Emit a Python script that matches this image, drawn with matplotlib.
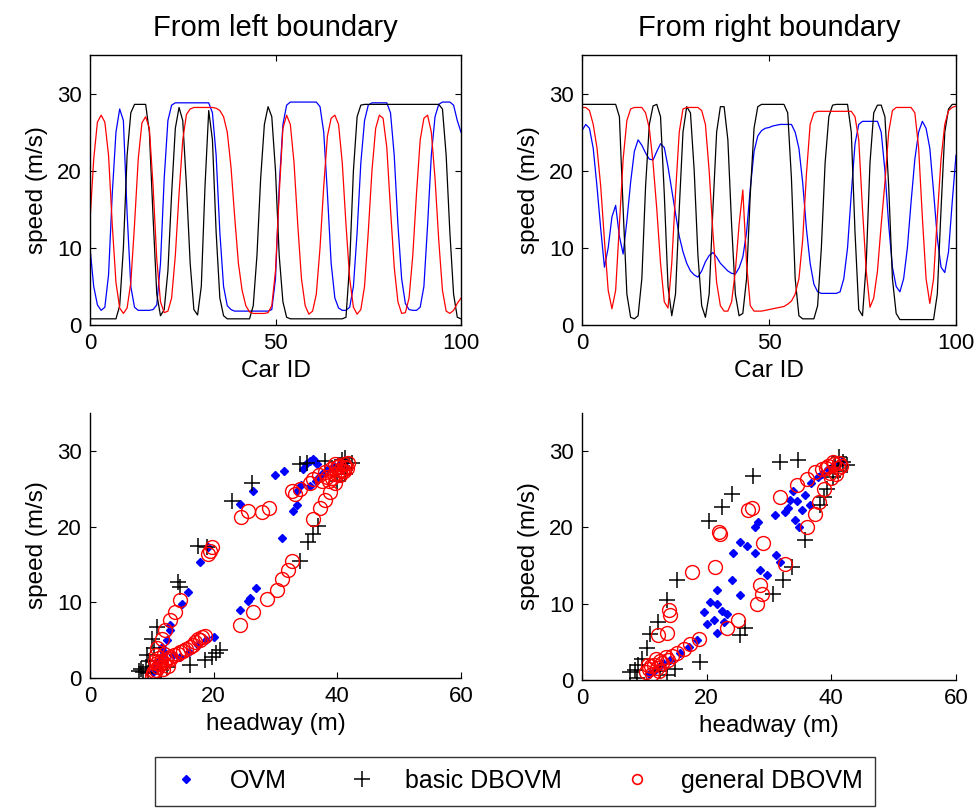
import matplotlib
matplotlib.use("Agg")
import matplotlib.pyplot as plt
from matplotlib.lines import Line2D

plt.rcParams['font.family'] = ['Liberation Sans', 'DejaVu Sans']

car_id = list(range(101))

# ---- Top-left: From left boundary (speed per car) ----
left_ovm = [10, 5, 2.6, 1.9, 2.3, 6.5, 17, 25, 28, 26.5, 14.5, 5, 2.3, 1.9, 1.9, 1.9, 1.9, 2, 2.6, 8,
            19, 26.5, 28.5, 28.8, 28.8, 28.8, 28.8, 28.8, 28.8, 28.8, 28.8, 28.8, 28.8, 27.5, 22, 12, 5, 2.5, 2, 1.8,
            1.8, 1.8, 1.8, 1.8, 1.8, 1.8, 1.8, 1.8, 1.8, 2, 6, 18, 26, 28.5, 28.9, 28.9, 28.9, 28.9, 28.9, 28.9,
            28.9, 28.9, 28.3, 25, 17, 8, 3.5, 2.2, 1.9, 1.9, 2.3, 5, 12, 21, 26.5, 28.5, 28.8, 28.8, 28.8, 28.8,
            28.8, 27.5, 22, 13, 6, 2.8, 2, 1.9, 1.9, 2.3, 5, 13, 22, 27, 28.6, 28.9, 28.9, 28.9, 28.5, 26.5, 25]
left_basic = [0.8, 0.8, 0.8, 0.8, 0.8, 0.8, 0.8, 0.8, 2.5, 10, 22, 27.5, 28.6, 28.6, 28.6, 28.6, 25, 14, 4, 1.2,
              2, 7, 17, 25.5, 28.2, 26.5, 18, 8, 2, 1.3, 5, 18, 27.8, 24, 12, 3.5, 1.2, 0.8, 0.8, 0.8,
              0.8, 0.8, 0.8, 0.8, 2.5, 9, 19, 26, 28.3, 27, 20, 9, 3, 1, 0.8, 0.8, 0.8, 0.8, 0.8, 0.8,
              0.8, 0.8, 0.8, 0.8, 0.8, 0.8, 0.8, 0.8, 0.8, 1, 8, 20, 27, 28.5, 28.6, 28.6, 28.6, 28.6, 28.6, 28.6,
              28.6, 28.6, 28.6, 28.6, 28.6, 28.6, 28.6, 28.6, 28.6, 28.6, 28.6, 28.6, 28.6, 28.6, 28.6, 28, 22, 12, 4, 1, 0.8]
left_general = [13.5, 21.5, 26.3, 27.2, 26.3, 22, 13, 5.5, 2.2, 1.5, 2.2, 5.5, 13, 21.5, 26.2, 27, 25.5, 18, 8.5, 3,
                1.6, 1.8, 3.5, 9, 17, 24, 27.3, 28, 28.2, 28.2, 28.2, 28.2, 28.2, 28.2, 28.1, 27.8, 27, 25, 20.5, 14,
                8, 4.5, 2.5, 1.7, 1.5, 1.5, 1.5, 1.5, 1.6, 2.5, 7, 17, 25.5, 27.2, 26, 21, 13, 6, 2.5, 1.4,
                1.8, 4, 10, 18, 24.5, 26.8, 27.2, 26, 21, 13, 6, 2.3, 1.4, 2, 5, 12, 20, 25.5, 27.2, 26.8,
                23, 15, 7.5, 3, 1.5, 1.6, 3.5, 9, 17, 24, 26.8, 27.2, 25, 19, 11, 4.5, 1.8, 1.5, 1.9, 2.8, 3.5]

# ---- Top-right: From right boundary ----
right_ovm = [25.2, 26, 25.5, 22.9, 18, 12.5, 7.5, 10, 14, 15.5, 11.5, 9.2, 13.5, 18.5, 22.5, 24, 23.3, 22.3, 21.5, 21.4,
             22.5, 23.5, 23, 20.5, 17.5, 14.5, 11.5, 9.5, 8, 7, 6.5, 6.2, 7, 8.2, 9, 9.4, 8.8, 8, 7.5, 7,
             6.7, 6.6, 7.4, 8.8, 12, 17.7, 22.5, 24.5, 25.2, 25.5, 25.6, 25.8, 25.9, 26, 26, 26, 26, 25, 22.9, 18.5,
             12.5, 8, 5.3, 4.3, 4.1, 4.1, 4.1, 4.1, 4.1, 4.3, 6, 10, 17, 23.5, 26, 26.4, 26.4, 26.4, 26.4, 26.4,
             25, 20, 13, 7.5, 5, 4.3, 6, 10, 16, 21.5, 25, 26.4, 25.5, 22.9, 17.3, 11.3, 7.5, 6.8, 9.5, 16, 22]
right_basic = [28.6, 28.6, 28.6, 28.6, 28.6, 28.6, 28.6, 28.6, 28.6, 28.6, 27, 15, 4, 1, 0.8, 1.2, 6, 18, 26, 28.4,
               28.6, 27, 17, 5, 1.2, 4, 15, 25, 28.3, 27.5, 20, 9, 2.5, 1, 4, 15, 25, 28.3, 28.3, 24,
               13, 4, 1.2, 1.5, 6, 17, 25.5, 28.3, 28.6, 28.6, 28.6, 28.6, 28.6, 28.6, 28.6, 27.5, 19, 6, 1.2, 0.8,
               0.8, 0.8, 0.8, 2.5, 10, 21, 27, 28.5, 28.6, 28.6, 28.6, 28.6, 25, 12, 2, 1.2, 8, 21, 27.5, 28.5,
               28.5, 27, 18, 6, 1.5, 0.7, 0.7, 0.7, 0.7, 0.7, 0.7, 0.7, 0.7, 0.7, 0.7, 4, 15, 25, 28, 28.6, 28.6]
right_general = [28.2, 28.2, 27.8, 26, 23, 18, 11, 4.5, 2.1, 4.5, 13, 21.5, 26.5, 28, 28.2, 28.2, 28.2, 27.5, 25.5, 21,
                 15, 8, 3, 2.2, 8, 17, 25, 28, 28.2, 28.2, 28.2, 28.2, 27.8, 26, 20, 12, 5.5, 2.5, 1.8, 1.8,
                 3, 7, 13, 17.5, 8, 2.5, 1.8, 1.8, 1.8, 1.9, 2, 2.1, 2.2, 2.3, 2.4, 2.7, 3.1, 4, 6, 11,
                 19.5, 26, 27.5, 27.7, 27.7, 27.7, 27.7, 27.7, 27.7, 27.7, 27.7, 27.7, 27.7, 27, 24, 15, 7, 2.3, 3.5, 7,
                 13, 18.5, 25, 27.8, 28.2, 28.2, 28.2, 28.2, 28.2, 27.5, 23, 14, 6, 2.8, 6, 14, 21.5, 26, 27.8, 28.2, 28.4]

# ---- Bottom-left: speed vs headway (left boundary) ----
bl_ovm_h = [10.2, 10.5, 10.8, 11.0, 11.3, 10.4, 10.9, 11.6, 12.0, 11.6, 12.9, 12.4, 13.4, 14.6, 16.0, 17.5, 18.8, 20.0,
            13.0, 14.8, 15.9, 17.8, 19.1, 24.3, 25.6, 25.9, 26.8, 31.1, 32.9, 33.5, 24.3, 26.4, 29.9, 31.3, 33.4, 34.2,
            35.0, 35.6, 36.0, 36.4, 36.7, 34.5, 37.5, 38.5, 39.5, 40.5, 41.2, 36.5, 35.5, 37.0]
bl_ovm_v = [0.8, 1.2, 1.6, 2.0, 2.4, 1.0, 1.4, 2.9, 3.4, 4.1, 6.3, 5.0, 3.0, 2.8, 3.5, 4.3, 5.0, 5.4,
            7.0, 9.8, 11.3, 15.3, 17.3, 9.0, 10.2, 10.6, 11.9, 18.5, 22.1, 22.8, 23.0, 24.7, 26.8, 27.4, 24.7, 25.5,
            28.2, 28.6, 28.9, 28.7, 28.3, 27.6, 27.0, 27.6, 28.0, 28.3, 28.5, 26.0, 25.4, 26.5]
bl_basic_h = [8.0, 8.3, 8.6, 9.0, 9.2, 9.6, 10.0, 10.8, 10.3, 9.4, 14.3, 14.6, 17.5, 18.9, 22.9, 26.2, 34.0, 35.1,
              38.0, 41.2, 42.3, 41.5, 40.8, 40.7, 16.2, 18.6, 19.7, 21.0, 20.3, 34.0, 35.3, 36.1, 36.9, 41.2, 40.0, 11.5, 12.5]
bl_basic_v = [0.9, 1.2, 0.8, 1.5, 3.0, 2.2, 5.2, 6.75, 4.0, 0.6, 12.7, 12.0, 17.5, 17.3, 23.4, 25.8, 28.2, 28.4,
              28.6, 29.0, 28.4, 27.8, 28.0, 28.8, 1.7, 2.4, 2.8, 3.7, 3.3, 15.5, 17.9, 19.0, 20.1, 26.9, 26.0, 1.0, 1.5]
bl_general_h = [24.3, 26.4, 28.6, 30.2, 31.0, 32.1, 32.6, 36.1, 37.2, 38.0, 38.8, 39.6, 40.4, 41.3,
                32.6, 33.2, 34.0, 35.6, 36.1, 37.0, 38.0, 39.0, 40.0, 41.0, 41.8, 40.5, 39.5,
                38.6, 39.2, 39.9, 40.7, 41.5, 37.6, 38.3, 40.2, 41.1, 39.6,
                24.5, 25.6, 27.8, 28.9, 19.1, 19.7, 19.4,
                14.6, 13.8, 13.0, 11.6, 10.8, 12.2,
                12.0, 13.0, 14.6, 15.5, 16.2, 17.0, 17.5, 18.1, 18.6, 13.6, 14.2, 15.0, 16.7, 17.8,
                10.2, 10.6, 11.0, 11.4, 10.5, 11.2, 10.0, 11.8, 10.4, 10.9, 11.5, 12.3, 12.6, 10.7, 11.9, 12.9]
bl_general_v = [7.0, 8.7, 10.5, 11.6, 13.1, 14.2, 15.5, 21.0, 22.5, 23.5, 24.6, 25.7, 26.8, 27.9,
                24.7, 24.3, 25.0, 25.8, 26.3, 26.8, 27.2, 27.6, 27.9, 28.2, 28.4, 27.5, 27.0,
                26.0, 26.4, 26.9, 27.3, 27.7, 26.0, 26.6, 28.0, 27.4, 28.3,
                21.2, 22.1, 21.9, 22.5, 16.4, 17.3, 16.8,
                10.3, 8.7, 7.6, 5.2, 3.9, 6.3,
                2.0, 2.5, 3.5, 3.8, 4.1, 4.7, 5.2, 5.4, 5.6, 3.0, 3.2, 3.6, 4.4, 5.0,
                0.6, 1.0, 1.4, 1.8, 2.2, 2.6, 0.3, 1.2, 0.9, 2.0, 2.2, 2.4, 1.6, 3.0, 3.2, 2.8]

# ---- Bottom-right: speed vs headway (right boundary) ----
br_ovm_h = [31.0, 33.4, 33.0, 34.2, 35.3, 33.8, 35.8, 36.7, 37.8, 34.8, 32.5, 28.3, 27.8, 25.4, 26.5, 24.2, 27.8,
            31.2, 31.8, 28.6, 29.6, 24.0, 25.4, 21.6, 20.5, 21.6, 22.4, 19.5, 23.2, 21.1, 20.0, 21.6, 22.8, 18.4,
            17.1, 15.7, 14.1, 12.5, 11.5, 10.8, 13.0, 38.5, 39.5, 40.3, 41.0, 41.5, 36.5, 34.5]
br_ovm_v = [21.6, 23.6, 22.6, 21.0, 22.3, 24.8, 24.2, 25.8, 26.6, 20.1, 22.0, 20.7, 20.1, 18.1, 17.6, 16.7, 16.6,
            16.4, 15.5, 14.4, 13.7, 13.1, 11.1, 11.8, 10.2, 10.0, 9.1, 8.9, 8.7, 7.8, 7.4, 6.1, 7.6, 5.2,
            4.3, 3.5, 2.6, 1.8, 1.2, 0.8, 2.2, 27.0, 27.6, 28.0, 28.3, 28.6, 23.0, 23.5]
br_basic_h = [31.8, 34.7, 27.5, 24.0, 22.4, 20.3, 15.2, 13.6, 12.2, 10.9, 10.4, 9.6, 8.5, 7.7, 9.0, 8.8, 18.9,
              14.9, 13.6, 12.5, 25.4, 26.2, 30.7, 32.3, 33.7, 35.8, 38.2, 39.3, 40.6, 41.2, 41.8, 42.5, 40.2, 41.0, 38.8]
br_basic_v = [28.6, 28.8, 26.7, 24.4, 22.7, 20.9, 13.1, 10.5, 7.6, 6.0, 4.2, 2.8, 1.3, 1.0, 2.0, 0.3, 2.4,
              1.5, 0.7, 1.2, 5.9, 6.8, 11.3, 13.1, 14.8, 18.3, 22.9, 25.1, 28.0, 29.2, 28.6, 28.2, 26.6, 27.4, 24.0]
br_general_h = [17.6, 21.3, 21.9, 22.1, 26.7, 27.3, 29.1, 31.8, 34.5, 36.1, 37.4, 38.0, 37.4, 36.1, 32.6, 28.6,
                28.8, 28.0, 25.1, 23.2, 13.9, 14.1, 13.6, 12.2, 18.7, 17.3, 16.3, 15.2, 13.5, 12.5, 11.5, 10.8,
                10.3, 11.2, 12.0, 38.5, 39.5, 40.5, 41.2, 40.0, 38.8, 39.8, 41.0,
                40.3, 41.6, 39.2, 40.8, 10.6, 11.8, 12.8, 13.8, 14.5, 11.0, 12.3]
br_general_v = [14.2, 14.8, 19.4, 19.1, 22.3, 22.5, 17.9, 24.0, 25.5, 26.4, 27.3, 23.3, 21.8, 20.1, 15.2, 12.4,
                11.3, 10.0, 7.8, 6.8, 9.2, 8.5, 6.1, 5.9, 5.4, 4.7, 4.1, 3.5, 3.0, 2.5, 2.0, 1.5,
                1.0, 0.8, 1.6, 27.6, 28.0, 28.3, 28.5, 26.5, 25.0, 27.2, 27.8,
                28.6, 28.0, 27.8, 27.0, 2.0, 2.8, 2.2, 2.6, 3.2, 1.8, 1.2]

series_labels = ['OVM', 'basic DBOVM', 'general DBOVM']
titles = ['From left boundary', 'From right boundary']

W, H = 975, 809
fig = plt.figure(figsize=(W / 100, H / 100), dpi=100)

def fr(l, t, r, b):
    return [l / W, 1 - b / H, (r - l) / W, (b - t) / H]

ax_tl = fig.add_axes(fr(90, 55, 461, 325))
ax_tr = fig.add_axes(fr(582, 55, 956, 325))
ax_bl = fig.add_axes(fr(90, 413, 461, 678))
ax_br = fig.add_axes(fr(582, 413, 956, 680))

TICK_FS = 16
LABEL_FS = 17.5

for ax, data, title in [(ax_tl, (left_ovm, left_basic, left_general), titles[0]),
                        (ax_tr, (right_ovm, right_basic, right_general), titles[1])]:
    ax.plot(car_id, data[0], color='#0000ff', lw=0.9)
    ax.plot(car_id, data[1], color='black', lw=0.9)
    ax.plot(car_id, data[2], color='#ff0000', lw=0.9)
    ax.set_xlim(0, 100)
    ax.set_ylim(0, 35)
    ax.set_xticks([0, 50, 100])
    ax.set_yticks([0, 10, 20, 30])
    ax.tick_params(direction='in', top=True, right=True, length=4, width=0.8, labelsize=TICK_FS, pad=6)
    ax.set_xlabel('Car ID', fontsize=LABEL_FS, labelpad=4)
    ax.set_ylabel('speed (m/s)', fontsize=LABEL_FS, labelpad=6)
    ax.set_title(title, fontsize=21, pad=14)
    for s in ax.spines.values():
        s.set_linewidth(1.0)

for ax, (oh, ov, bh, bv, gh, gv) in [(ax_bl, (bl_ovm_h, bl_ovm_v, bl_basic_h, bl_basic_v, bl_general_h, bl_general_v)),
                                      (ax_br, (br_ovm_h, br_ovm_v, br_basic_h, br_basic_v, br_general_h, br_general_v))]:
    ax.plot(oh, ov, linestyle='none', marker='D', ms=4.2, color='#0000ff', mec='#0000ff')
    ax.plot(bh, bv, linestyle='none', marker='+', ms=12, mew=1.1, color='black')
    ax.plot(gh, gv, linestyle='none', marker='o', ms=10, mfc='none', mec='#ff0000', mew=1.0)
    ax.set_xlim(0, 60)
    ax.set_ylim(0, 35)
    ax.set_xticks([0, 20, 40, 60])
    ax.set_yticks([0, 10, 20, 30])
    ax.spines['top'].set_visible(False)
    ax.spines['right'].set_visible(False)
    for s in ax.spines.values():
        s.set_linewidth(1.0)
    ax.tick_params(direction='in', length=4, width=0.8, labelsize=TICK_FS, pad=6)
    ax.set_xlabel('headway (m)', fontsize=LABEL_FS, labelpad=4)
    ax.set_ylabel('speed (m/s)', fontsize=LABEL_FS, labelpad=6)

handles = [Line2D([], [], linestyle='none', marker='D', ms=4.2, color='#0000ff'),
           Line2D([], [], linestyle='none', marker='+', ms=12, mew=1.1, color='black'),
           Line2D([], [], linestyle='none', marker='o', ms=7, mfc='none', mec='#ff0000', mew=1.2)]
leg = fig.legend(handles, series_labels, loc='center', ncol=3, mode='expand',
                 bbox_to_anchor=(155 / W, 1 - 805 / H, 720 / W, 48 / H),
                 fontsize=18, frameon=True, fancybox=False, edgecolor='black',
                 handlelength=1.5, handletextpad=1.0, borderaxespad=0, borderpad=0.5)
leg.get_frame().set_linewidth(1.0)

fig.savefig('out.png', dpi=100)
